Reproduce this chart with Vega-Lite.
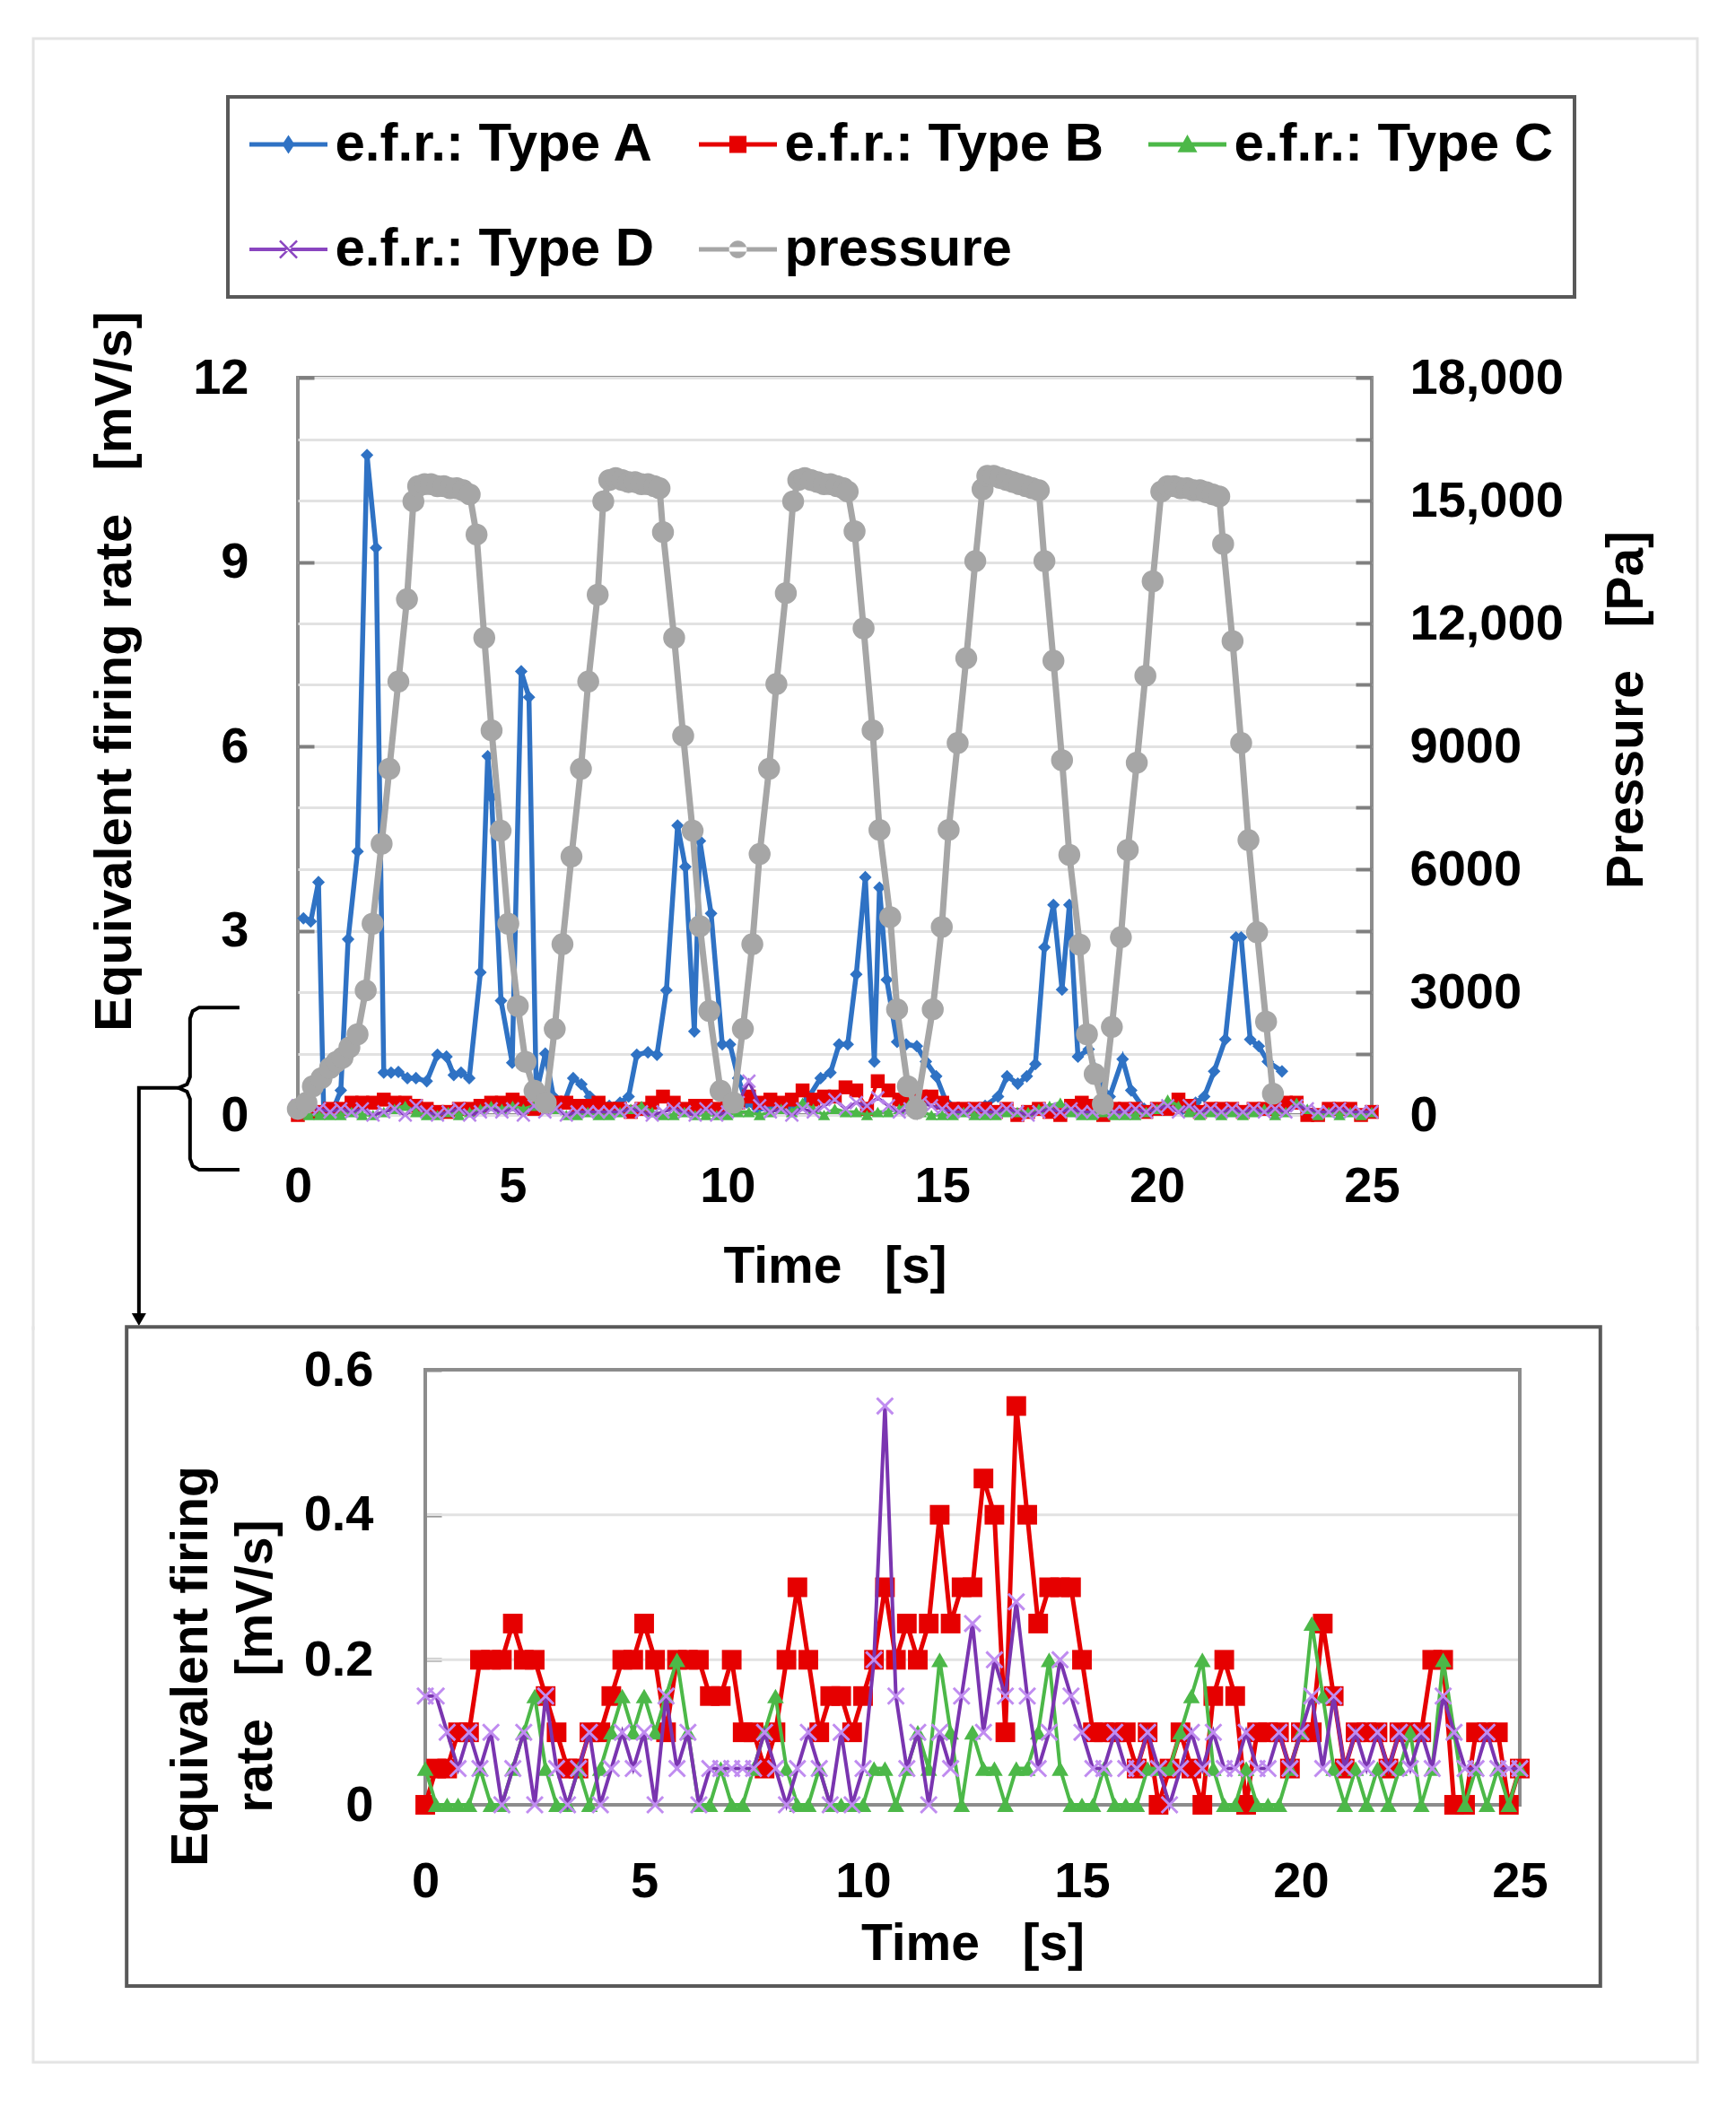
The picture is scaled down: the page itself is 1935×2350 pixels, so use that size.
{
  "$schema": "https://vega.github.io/schema/vega-lite/v6.json",
  "background": "white",
  "padding": {"left": 29, "top": 34, "right": 0, "bottom": 0},
  "spacing": -19,
  "resolve": {"scale": {"color": "independent", "x": "independent", "y": "independent"}},
  "config": {
    "font": "Liberation Sans",
    "view": {"stroke": "#8c8c8c", "strokeWidth": 4},
    "axis": {
      "labelFont": "Liberation Sans", "labelFontSize": 56, "labelFontWeight": "bold", "labelColor": "#000000",
      "titleFont": "Liberation Sans", "titleFontSize": 57, "titleFontWeight": "bold", "titleColor": "#000000",
      "domain": false, "ticks": false, "grid": false, "labelOverlap": false, "labelFlush": false
    }
  },
  "datasets": {
    "typeA": [
      {"t":0.13,"v":3.2},{"t":0.3,"v":3.15},{"t":0.48,"v":3.79},{"t":0.6,"v":0.1},{"t":0.8,"v":0.05},{"t":1.0,"v":0.4},
      {"t":1.17,"v":2.86},{"t":1.39,"v":4.29},{"t":1.61,"v":10.74},{"t":1.82,"v":9.23},{"t":2.0,"v":0.69},{"t":2.17,"v":0.69},
      {"t":2.34,"v":0.7},{"t":2.55,"v":0.6},{"t":2.75,"v":0.6},{"t":3.0,"v":0.55},{"t":3.25,"v":0.98},{"t":3.46,"v":0.95},
      {"t":3.63,"v":0.65},{"t":3.8,"v":0.69},{"t":3.99,"v":0.6},{"t":4.25,"v":2.32},{"t":4.42,"v":5.84},{"t":4.51,"v":5.17},
      {"t":4.73,"v":1.86},{"t":4.99,"v":0.85},{"t":5.2,"v":7.22},{"t":5.38,"v":6.8},{"t":5.55,"v":0.35},{"t":5.76,"v":1.0},
      {"t":5.95,"v":0.3},{"t":6.2,"v":0.2},{"t":6.41,"v":0.6},{"t":6.6,"v":0.5},{"t":6.8,"v":0.3},{"t":7.0,"v":0.2},
      {"t":7.25,"v":0.15},{"t":7.5,"v":0.2},{"t":7.7,"v":0.3},{"t":7.89,"v":0.98},{"t":8.15,"v":1.02},{"t":8.36,"v":0.98},
      {"t":8.58,"v":2.03},{"t":8.84,"v":4.71},{"t":9.02,"v":4.04},{"t":9.23,"v":1.36},{"t":9.36,"v":4.46},{"t":9.62,"v":3.28},
      {"t":9.88,"v":1.15},{"t":10.06,"v":1.15},{"t":10.25,"v":0.6},{"t":10.45,"v":0.2},{"t":10.7,"v":0.1},{"t":11.0,"v":0.1},
      {"t":11.3,"v":0.15},{"t":11.6,"v":0.1},{"t":11.9,"v":0.3},{"t":12.17,"v":0.6},{"t":12.4,"v":0.69},{"t":12.6,"v":1.15},
      {"t":12.8,"v":1.15},{"t":13.0,"v":2.29},{"t":13.21,"v":3.87},{"t":13.42,"v":0.87},{"t":13.54,"v":3.7},{"t":13.71,"v":2.2},
      {"t":13.95,"v":1.19},{"t":14.16,"v":1.15},{"t":14.41,"v":1.12},{"t":14.62,"v":0.87},{"t":14.86,"v":0.63},{"t":15.1,"v":0.2},
      {"t":15.4,"v":0.1},{"t":15.7,"v":0.1},{"t":16.0,"v":0.15},{"t":16.3,"v":0.3},{"t":16.51,"v":0.63},{"t":16.76,"v":0.51},
      {"t":16.97,"v":0.63},{"t":17.17,"v":0.83},{"t":17.38,"v":2.73},{"t":17.59,"v":3.42},{"t":17.79,"v":2.04},{"t":17.96,"v":3.42},
      {"t":18.16,"v":0.95},{"t":18.41,"v":1.07},{"t":18.66,"v":0.55},{"t":18.9,"v":0.3},{"t":19.2,"v":0.91},{"t":19.4,"v":0.4},
      {"t":19.7,"v":0.1},{"t":20.0,"v":0.1},{"t":20.3,"v":0.15},{"t":20.6,"v":0.1},{"t":20.9,"v":0.2},{"t":21.1,"v":0.3},
      {"t":21.33,"v":0.71},{"t":21.59,"v":1.23},{"t":21.84,"v":2.89},{"t":21.96,"v":2.89},{"t":22.17,"v":1.23},{"t":22.37,"v":1.12},
      {"t":22.58,"v":0.87},{"t":22.91,"v":0.71}
    ],
    "bcd": [
      {"t":0,"B":0,"C":0.05,"D":0.15},{"t":0.25,"B":0.05,"C":0,"D":0.15},{"t":0.5,"B":0.05,"C":0,"D":0.1},{"t":0.75,"B":0.1,"C":0,"D":0.05},
      {"t":1,"B":0.1,"C":0,"D":0.1},{"t":1.25,"B":0.2,"C":0.05,"D":0.05},{"t":1.5,"B":0.2,"C":0,"D":0.1},{"t":1.75,"B":0.2,"C":0,"D":0},
      {"t":2,"B":0.25,"C":0.05,"D":0.05},{"t":2.25,"B":0.2,"C":0.1,"D":0.1},{"t":2.5,"B":0.2,"C":0.15,"D":0},{"t":2.75,"B":0.15,"C":0.05,"D":0.15},
      {"t":3,"B":0.1,"C":0,"D":0.05},{"t":3.25,"B":0.05,"C":0,"D":0},{"t":3.5,"B":0.05,"C":0.05,"D":0.05},{"t":3.75,"B":0.1,"C":0,"D":0.1},
      {"t":4,"B":0.1,"C":0.05,"D":0},{"t":4.25,"B":0.15,"C":0.1,"D":0.05},{"t":4.5,"B":0.2,"C":0.15,"D":0.1},{"t":4.75,"B":0.2,"C":0.1,"D":0.05},
      {"t":5,"B":0.25,"C":0.15,"D":0.1},{"t":5.25,"B":0.2,"C":0.1,"D":0},{"t":5.5,"B":0.1,"C":0.15,"D":0.15},{"t":5.75,"B":0.2,"C":0.2,"D":0.05},
      {"t":6,"B":0.2,"C":0.1,"D":0.1},{"t":6.25,"B":0.2,"C":0,"D":0},{"t":6.5,"B":0.15,"C":0,"D":0.05},{"t":6.75,"B":0.15,"C":0.05,"D":0.05},
      {"t":7,"B":0.2,"C":0,"D":0.05},{"t":7.25,"B":0.1,"C":0,"D":0.05},{"t":7.5,"B":0.1,"C":0.05,"D":0.05},{"t":7.75,"B":0.05,"C":0.1,"D":0.1},
      {"t":8,"B":0.1,"C":0.15,"D":0.05},{"t":8.25,"B":0.2,"C":0.05,"D":0},{"t":8.5,"B":0.3,"C":0,"D":0.05},{"t":8.75,"B":0.2,"C":0,"D":0.1},
      {"t":9,"B":0.1,"C":0.05,"D":0.05},{"t":9.25,"B":0.15,"C":0,"D":0},{"t":9.5,"B":0.15,"C":0,"D":0.1},{"t":9.75,"B":0.1,"C":0,"D":0},
      {"t":10,"B":0.15,"C":0,"D":0.05},{"t":10.25,"B":0.2,"C":0.05,"D":0.2},{"t":10.5,"B":0.3,"C":0.05,"D":0.55},{"t":10.75,"B":0.2,"C":0,"D":0.15},
      {"t":11,"B":0.25,"C":0.05,"D":0.05},{"t":11.25,"B":0.2,"C":0.1,"D":0.1},{"t":11.5,"B":0.25,"C":0.05,"D":0},{"t":11.75,"B":0.4,"C":0.2,"D":0.1},
      {"t":12,"B":0.25,"C":0.1,"D":0.05},{"t":12.25,"B":0.3,"C":0,"D":0.15},{"t":12.5,"B":0.3,"C":0.1,"D":0.25},{"t":12.75,"B":0.45,"C":0.05,"D":0.1},
      {"t":13,"B":0.4,"C":0.05,"D":0.2},{"t":13.25,"B":0.1,"C":0,"D":0.15},{"t":13.5,"B":0.55,"C":0.05,"D":0.28},{"t":13.75,"B":0.4,"C":0.05,"D":0.15},
      {"t":14,"B":0.25,"C":0.1,"D":0.05},{"t":14.25,"B":0.3,"C":0.2,"D":0.1},{"t":14.5,"B":0.3,"C":0.05,"D":0.2},{"t":14.75,"B":0.3,"C":0,"D":0.15},
      {"t":15,"B":0.2,"C":0,"D":0.1},{"t":15.25,"B":0.1,"C":0,"D":0.05},{"t":15.5,"B":0.1,"C":0.05,"D":0.05},{"t":15.75,"B":0.1,"C":0,"D":0.1},
      {"t":16,"B":0.1,"C":0,"D":0.05},{"t":16.25,"B":0.05,"C":0,"D":0.05},{"t":16.5,"B":0.1,"C":0.05,"D":0.1},{"t":16.75,"B":0,"C":0.05,"D":0.05},
      {"t":17,"B":0.05,"C":0.05,"D":0},{"t":17.25,"B":0.1,"C":0.1,"D":0.05},{"t":17.5,"B":0.05,"C":0.15,"D":0.1},{"t":17.75,"B":0,"C":0.2,"D":0.05},
      {"t":18,"B":0.15,"C":0.05,"D":0.1},{"t":18.25,"B":0.2,"C":0,"D":0.05},{"t":18.5,"B":0.15,"C":0,"D":0.05},{"t":18.75,"B":0,"C":0.05,"D":0.1},
      {"t":19,"B":0.1,"C":0,"D":0.05},{"t":19.25,"B":0.1,"C":0,"D":0.05},{"t":19.5,"B":0.1,"C":0,"D":0.1},{"t":19.75,"B":0.05,"C":0.05,"D":0.05},
      {"t":20,"B":0.1,"C":0.1,"D":0.1},{"t":20.25,"B":0.1,"C":0.25,"D":0.15},{"t":20.5,"B":0.25,"C":0.15,"D":0.05},{"t":20.75,"B":0.15,"C":0.05,"D":0.15},
      {"t":21,"B":0.05,"C":0,"D":0.05},{"t":21.25,"B":0.1,"C":0.05,"D":0.1},{"t":21.5,"B":0.1,"C":0,"D":0.05},{"t":21.75,"B":0.1,"C":0.05,"D":0.1},
      {"t":22,"B":0.05,"C":0,"D":0.05},{"t":22.25,"B":0.1,"C":0.05,"D":0.1},{"t":22.5,"B":0.1,"C":0.1,"D":0.05},{"t":22.75,"B":0.1,"C":0,"D":0.1},
      {"t":23,"B":0.2,"C":0.05,"D":0.05},{"t":23.25,"B":0.2,"C":0.2,"D":0.15},{"t":23.5,"B":0,"C":0.1,"D":0.1},{"t":23.75,"B":0,"C":0,"D":0.05},
      {"t":24,"B":0.1,"C":0.05,"D":0.05},{"t":24.25,"B":0.1,"C":0,"D":0.1},{"t":24.5,"B":0.1,"C":0.05,"D":0.05},{"t":24.75,"B":0,"C":0,"D":0.05},
      {"t":25,"B":0.05,"C":0.05,"D":0.05}
    ],
    "pres": [
      {"t":0,"p":150},{"t":0.2,"p":300},{"t":0.35,"p":700},{"t":0.55,"p":900},{"t":0.75,"p":1150},{"t":0.9,"p":1300},{"t":1.04,"p":1400},
      {"t":1.2,"p":1650},{"t":1.39,"p":1970},{"t":1.58,"p":3040},{"t":1.74,"p":4670},{"t":1.95,"p":6620},{"t":2.13,"p":8450},{"t":2.34,"p":10580},
      {"t":2.54,"p":12590},{"t":2.69,"p":14980},{"t":2.8,"p":15350},{"t":2.95,"p":15400},{"t":3.1,"p":15400},{"t":3.25,"p":15350},{"t":3.4,"p":15350},
      {"t":3.55,"p":15300},{"t":3.7,"p":15300},{"t":3.85,"p":15250},{"t":4.0,"p":15150},{"t":4.16,"p":14170},{"t":4.34,"p":11650},{"t":4.51,"p":9390},
      {"t":4.72,"p":6940},{"t":4.9,"p":4670},{"t":5.12,"p":2660},{"t":5.3,"p":1300},{"t":5.51,"p":590},{"t":5.77,"p":300},
      {"t":5.98,"p":2100},{"t":6.16,"p":4170},{"t":6.37,"p":6310},{"t":6.59,"p":8450},{"t":6.76,"p":10580},{"t":6.98,"p":12700},{"t":7.11,"p":14980},
      {"t":7.25,"p":15500},{"t":7.4,"p":15550},{"t":7.55,"p":15500},{"t":7.7,"p":15450},{"t":7.85,"p":15450},{"t":8.0,"p":15400},{"t":8.15,"p":15400},
      {"t":8.3,"p":15350},{"t":8.42,"p":15300},{"t":8.5,"p":14230},{"t":8.76,"p":11650},{"t":8.97,"p":9260},{"t":9.19,"p":6940},{"t":9.36,"p":4610},
      {"t":9.58,"p":2540},{"t":9.84,"p":590},{"t":10.14,"p":300},
      {"t":10.36,"p":2100},{"t":10.58,"p":4170},{"t":10.75,"p":6370},{"t":10.97,"p":8450},{"t":11.14,"p":10520},{"t":11.36,"p":12740},{"t":11.53,"p":14980},
      {"t":11.65,"p":15500},{"t":11.8,"p":15550},{"t":11.95,"p":15500},{"t":12.1,"p":15450},{"t":12.25,"p":15400},{"t":12.4,"p":15400},{"t":12.55,"p":15350},
      {"t":12.7,"p":15300},{"t":12.8,"p":15220},{"t":12.96,"p":14250},{"t":13.17,"p":11880},{"t":13.38,"p":9390},{"t":13.54,"p":6960},{"t":13.79,"p":4830},
      {"t":13.95,"p":2580},{"t":14.2,"p":700},{"t":14.4,"p":150},
      {"t":14.78,"p":2580},{"t":14.99,"p":4590},{"t":15.15,"p":6960},{"t":15.36,"p":9080},{"t":15.56,"p":11150},{"t":15.77,"p":13520},{"t":15.94,"p":15280},
      {"t":16.05,"p":15600},{"t":16.2,"p":15600},{"t":16.35,"p":15550},{"t":16.5,"p":15500},{"t":16.65,"p":15450},{"t":16.8,"p":15400},{"t":16.95,"p":15350},
      {"t":17.1,"p":15300},{"t":17.25,"p":15250},{"t":17.38,"p":13520},{"t":17.59,"p":11090},{"t":17.79,"p":8660},{"t":17.96,"p":6350},{"t":18.2,"p":4160},
      {"t":18.37,"p":1970},{"t":18.55,"p":1000},{"t":18.74,"p":270},
      {"t":18.95,"p":2150},{"t":19.16,"p":4340},{"t":19.32,"p":6470},{"t":19.53,"p":8600},{"t":19.73,"p":10720},{"t":19.9,"p":13030},{"t":20.1,"p":15220},
      {"t":20.25,"p":15350},{"t":20.4,"p":15350},{"t":20.55,"p":15300},{"t":20.7,"p":15300},{"t":20.85,"p":15250},{"t":21.0,"p":15250},{"t":21.15,"p":15200},
      {"t":21.3,"p":15150},{"t":21.45,"p":15100},{"t":21.54,"p":13940},{"t":21.76,"p":11570},{"t":21.96,"p":9080},{"t":22.13,"p":6710},{"t":22.33,"p":4460},
      {"t":22.54,"p":2280},{"t":22.7,"p":520}
    ],
    "brace": [
      {"t":-1.36,"v":1.75,"o":1},{"t":-2.3,"v":1.75,"o":2},{"t":-2.45,"v":1.69,"o":3},{"t":-2.51,"v":1.57,"o":4},{"t":-2.51,"v":0.62,"o":5},
      {"t":-2.58,"v":0.5,"o":6},{"t":-2.78,"v":0.44,"o":7},{"t":-2.58,"v":0.38,"o":8},{"t":-2.51,"v":0.26,"o":9},{"t":-2.51,"v":-0.71,"o":10},
      {"t":-2.45,"v":-0.83,"o":11},{"t":-2.3,"v":-0.89,"o":12},{"t":-1.36,"v":-0.89,"o":13}
    ],
    "arrow": [
      {"t":-2.78,"v":0.44,"o":1},{"t":-3.7,"v":0.44,"o":2},{"t":-3.7,"v":-3.3,"o":3}
    ],
    "head": [{"t":-3.7,"v":-3.33}],
    "frameTop": [
      {"t":-6.16,"v":-3.5,"o":1},{"t":-6.16,"v":17.52,"o":2},{"t":32.58,"v":17.52,"o":3},{"t":32.58,"v":-3.5,"o":4}
    ],
    "frameBottom": [
      {"t":-8.955,"B":0.66,"o":1},{"t":-8.955,"B":-0.355,"o":2},{"t":29.06,"B":-0.355,"o":3},{"t":29.06,"B":0.66,"o":4}
    ],
    "gridBottom": [{"g":0.2},{"g":0.4}]
  },
  "vconcat": [
    {
      "width": 1197,
      "height": 822,
      "resolve": {"scale": {"y": "independent"}},
      "layer": [
        {
          "layer": [
            {
              "data": {"name": "frameTop"},
              "mark": {"type": "line", "color": "#e4e4e4", "strokeWidth": 3},
              "encoding": {
                "x": {"field": "t", "type": "quantitative", "scale": {"domain": [0, 25], "nice": false},
                      "axis": {"values": [0, 5, 10, 15, 20, 25], "title": "Time\u00a0\u00a0\u00a0[s]", "labelPadding": 52, "titlePadding": 34}},
                "y": {"field": "v", "type": "quantitative", "scale": {"domain": [0, 12], "nice": false},
                      "axis": {"values": [0, 3, 6, 9, 12], "format": "d", "grid": false,
                               "ticks": true, "tickSize": -18, "tickWidth": 4, "tickColor": "#7f7f7f",
                               "title": "Equivalent firing rate\u00a0\u00a0\u00a0[mV/s]", "titleFontSize": 58, "titleY": 327,
                               "labelPadding": 73, "titlePadding": 57}},
                "order": {"field": "o", "type": "quantitative"}
              }
            },
            {
              "data": {"name": "typeA"},
              "mark": {"type": "line", "strokeWidth": 5.5},
              "encoding": {
                "x": {"field": "t", "type": "quantitative"},
                "y": {"field": "v", "type": "quantitative"},
                "color": {
                  "datum": "A", "type": "nominal",
                  "scale": {"domain": ["A", "B", "C", "D", "P"], "range": ["#2f72c4", "#e60000", "#4cb848", "#7a35b0", "#a6a6a6"]},
                  "legend": {
                    "orient": "none", "legendX": -78, "legendY": -313, "columns": 3, "direction": "horizontal", "title": null,
                    "strokeColor": "#595959", "padding": 23, "columnPadding": 48, "rowPadding": 57,
                    "symbolSize": 3364, "symbolStrokeWidth": 0, "symbolOffset": 14.5, "labelOffset": 22,
                    "labelFont": "Liberation Sans", "labelFontSize": 60, "labelFontWeight": "bold", "labelColor": "#000000", "labelLimit": 1000,
                    "labelExpr": "datum.label === 'P' ? 'pressure' : 'e.f.r.: Type ' + datum.label",
                    "encode": {
                      "legend": {"update": {"strokeWidth": {"value": 4}}},
                      "symbols": {
                        "update": {
                          "shape": {"signal": "datum.value === 'A' ? 'M-1.5,-0.086H1.5V0.086H-1.5Z M0,-0.36L0.24,0L0,0.36L-0.24,0Z' : datum.value === 'B' ? 'M-1.5,-0.086H1.5V0.086H-1.5Z M-0.33,-0.33H0.33V0.33H-0.33Z' : datum.value === 'C' ? 'M-1.5,-0.086H1.5V0.086H-1.5Z M0,-0.38L0.38,0.3H-0.38Z' : datum.value === 'D' ? 'M-1.5,-0.07H1.5V0.07H-1.5Z M-0.36,-0.3L-0.3,-0.36L0.36,0.3L0.3,0.36Z M0.36,-0.3L0.3,-0.36L-0.36,0.3L-0.3,0.36Z' : 'M-1.5,-0.086H1.5V0.086H-1.5Z M-0.34,0A0.34,0.34,0,1,0,0.34,0A0.34,0.34,0,1,0,-0.34,0Z'"},
                          "fill": {"signal": "datum.value === 'A' ? '#2f72c4' : datum.value === 'B' ? '#e60000' : datum.value === 'C' ? '#4cb848' : datum.value === 'D' ? '#8a45c0' : '#a6a6a6'"},
                          "strokeWidth": {"value": 0},
                          "opacity": {"value": 1}
                        }
                      }
                    }
                  }
                }
              }
            },
            {
              "data": {"name": "typeA"},
              "mark": {"type": "point", "shape": "diamond", "filled": true, "size": 200, "color": "#2f72c4", "opacity": 1},
              "encoding": {"x": {"field": "t", "type": "quantitative"}, "y": {"field": "v", "type": "quantitative"}}
            },
            {
              "data": {"name": "bcd"},
              "mark": {"type": "line", "strokeWidth": 4},
              "encoding": {"x": {"field": "t", "type": "quantitative"}, "y": {"field": "B", "type": "quantitative"}, "color": {"datum": "B", "type": "nominal"}}
            },
            {
              "data": {"name": "bcd"},
              "mark": {"type": "point", "shape": "square", "filled": true, "size": 240, "color": "#e60000", "opacity": 1},
              "encoding": {"x": {"field": "t", "type": "quantitative"}, "y": {"field": "B", "type": "quantitative"}}
            },
            {
              "data": {"name": "bcd"},
              "mark": {"type": "line", "strokeWidth": 3.5},
              "encoding": {"x": {"field": "t", "type": "quantitative"}, "y": {"field": "C", "type": "quantitative"}, "color": {"datum": "C", "type": "nominal"}}
            },
            {
              "data": {"name": "bcd"},
              "mark": {"type": "point", "shape": "triangle-up", "filled": true, "size": 180, "color": "#4cb848", "opacity": 1},
              "encoding": {"x": {"field": "t", "type": "quantitative"}, "y": {"field": "C", "type": "quantitative"}}
            },
            {
              "data": {"name": "bcd"},
              "mark": {"type": "line", "strokeWidth": 3.5},
              "encoding": {"x": {"field": "t", "type": "quantitative"}, "y": {"field": "D", "type": "quantitative"}, "color": {"datum": "D", "type": "nominal"}}
            },
            {
              "data": {"name": "bcd"},
              "mark": {"type": "point", "shape": "M-1,-1L1,1M-1,1L1,-1", "filled": false, "size": 200, "stroke": "#b884ea", "strokeWidth": 2.5, "opacity": 1},
              "encoding": {"x": {"field": "t", "type": "quantitative"}, "y": {"field": "D", "type": "quantitative"}}
            },
            {
              "data": {"name": "brace"},
              "mark": {"type": "line", "color": "#000000", "strokeWidth": 4},
              "encoding": {"x": {"field": "t", "type": "quantitative"}, "y": {"field": "v", "type": "quantitative"}, "order": {"field": "o", "type": "quantitative"}}
            },
            {
              "data": {"name": "arrow"},
              "mark": {"type": "line", "color": "#000000", "strokeWidth": 4},
              "encoding": {"x": {"field": "t", "type": "quantitative"}, "y": {"field": "v", "type": "quantitative"}, "order": {"field": "o", "type": "quantitative"}}
            },
            {
              "data": {"name": "head"},
              "mark": {"type": "point", "shape": "triangle-down", "filled": true, "size": 260, "color": "#000000", "opacity": 1},
              "encoding": {"x": {"field": "t", "type": "quantitative"}, "y": {"field": "v", "type": "quantitative"}}
            }
          ]
        },
        {
          "layer": [
            {
              "data": {"name": "pres"},
              "mark": {"type": "line", "strokeWidth": 7},
              "encoding": {
                "x": {"field": "t", "type": "quantitative"},
                "y": {"field": "p", "type": "quantitative", "scale": {"domain": [0, 18000], "nice": false},
                      "axis": {"orient": "right", "values": [0,1500,3000,4500,6000,7500,9000,10500,12000,13500,15000,16500,18000],
                               "labelExpr": "datum.value % 3000 === 0 ? (datum.value >= 10000 ? format(datum.value, ',') : format(datum.value, 'd')) : ''",
                               "grid": true, "gridColor": "#e2e2e2", "gridWidth": 3,
                               "ticks": true, "tickSize": -18, "tickWidth": 4, "tickColor": "#7f7f7f",
                               "labelPadding": 60, "title": "Pressure\u00a0\u00a0\u00a0[Pa]", "titleAngle": 270, "titleBaseline": "top",
                               "titleY": 370, "titlePadding": 56}},
                "color": {"datum": "P", "type": "nominal"}
              }
            },
            {
              "data": {"name": "pres"},
              "mark": {"type": "circle", "size": 600, "color": "#a6a6a6", "opacity": 1},
              "encoding": {"x": {"field": "t", "type": "quantitative"}, "y": {"field": "p", "type": "quantitative"}}
            }
          ]
        }
      ]
    },
    {
      "width": 1362,
      "height": 485,
      "view": {"stroke": null},
      "layer": [
        {
          "data": {"name": "frameBottom"},
          "mark": {"type": "line", "color": "#e4e4e4", "strokeWidth": 3},
          "encoding": {
            "x": {"field": "t", "type": "quantitative", "scale": {"domain": [-2.9098, 25], "nice": false},
                  "axis": {"values": [0, 5, 10, 15, 20, 25], "title": "Time\u00a0\u00a0\u00a0[s]", "titleX": 752, "labelPadding": 58, "titlePadding": 14}},
            "y": {"field": "B", "type": "quantitative", "scale": {"domain": [0, 0.6], "nice": false},
                  "axis": {"values": [0, 0.2, 0.4, 0.6], "labelExpr": "datum.value === 0 ? '0' : format(datum.value, '.1f')",
                           "offset": -142, "grid": false,
                           "ticks": true, "tickSize": -18, "tickWidth": 4, "tickColor": "#7f7f7f",
                           "labelPadding": 76, "title": ["Equivalent firing", "rate\u00a0\u00a0\u00a0[mV/s]"], "titleLineHeight": 72,
                           "titleY": 330, "titlePadding": 24}},
            "order": {"field": "o", "type": "quantitative"}
          }
        },
        {
          "data": {"values": [{}]},
          "mark": {"type": "rect", "fill": "transparent", "stroke": "#595959", "strokeWidth": 4},
          "encoding": {
            "x": {"datum": -6.82, "type": "quantitative"},
            "x2": {"datum": 26.84},
            "y": {"datum": -0.25, "type": "quantitative"},
            "y2": {"datum": 0.659}
          }
        },
        {
          "data": {"name": "gridBottom"},
          "mark": {"type": "rule", "color": "#e2e2e2", "strokeWidth": 3},
          "encoding": {
            "x": {"datum": 0, "type": "quantitative"},
            "x2": {"datum": 25},
            "y": {"field": "g", "type": "quantitative"}
          }
        },
        {
          "data": {"values": [{}]},
          "mark": {"type": "rect", "fill": "transparent", "stroke": "#8c8c8c", "strokeWidth": 4},
          "encoding": {
            "x": {"datum": 0, "type": "quantitative"},
            "x2": {"datum": 25},
            "y": {"datum": 0, "type": "quantitative"},
            "y2": {"datum": 0.6}
          }
        },
        {
          "data": {"name": "bcd"},
          "mark": {"type": "line", "strokeWidth": 5, "color": "#e60000"},
          "encoding": {"x": {"field": "t", "type": "quantitative"}, "y": {"field": "B", "type": "quantitative"}}
        },
        {
          "data": {"name": "bcd"},
          "mark": {"type": "point", "shape": "square", "filled": true, "size": 480, "color": "#e60000", "opacity": 1},
          "encoding": {"x": {"field": "t", "type": "quantitative"}, "y": {"field": "B", "type": "quantitative"}}
        },
        {
          "data": {"name": "bcd"},
          "mark": {"type": "line", "strokeWidth": 4, "color": "#4cb848"},
          "encoding": {"x": {"field": "t", "type": "quantitative"}, "y": {"field": "C", "type": "quantitative"}}
        },
        {
          "data": {"name": "bcd"},
          "mark": {"type": "point", "shape": "triangle-up", "filled": true, "size": 350, "color": "#4cb848", "opacity": 1},
          "encoding": {"x": {"field": "t", "type": "quantitative"}, "y": {"field": "C", "type": "quantitative"}}
        },
        {
          "data": {"name": "bcd"},
          "mark": {"type": "line", "strokeWidth": 4, "color": "#7a35b0"},
          "encoding": {"x": {"field": "t", "type": "quantitative"}, "y": {"field": "D", "type": "quantitative"}}
        },
        {
          "data": {"name": "bcd"},
          "mark": {"type": "point", "shape": "M-1,-1L1,1M-1,1L1,-1", "filled": false, "size": 320, "stroke": "#c08cf0", "strokeWidth": 3, "opacity": 1},
          "encoding": {"x": {"field": "t", "type": "quantitative"}, "y": {"field": "D", "type": "quantitative"}}
        }
      ]
    }
  ]
}
